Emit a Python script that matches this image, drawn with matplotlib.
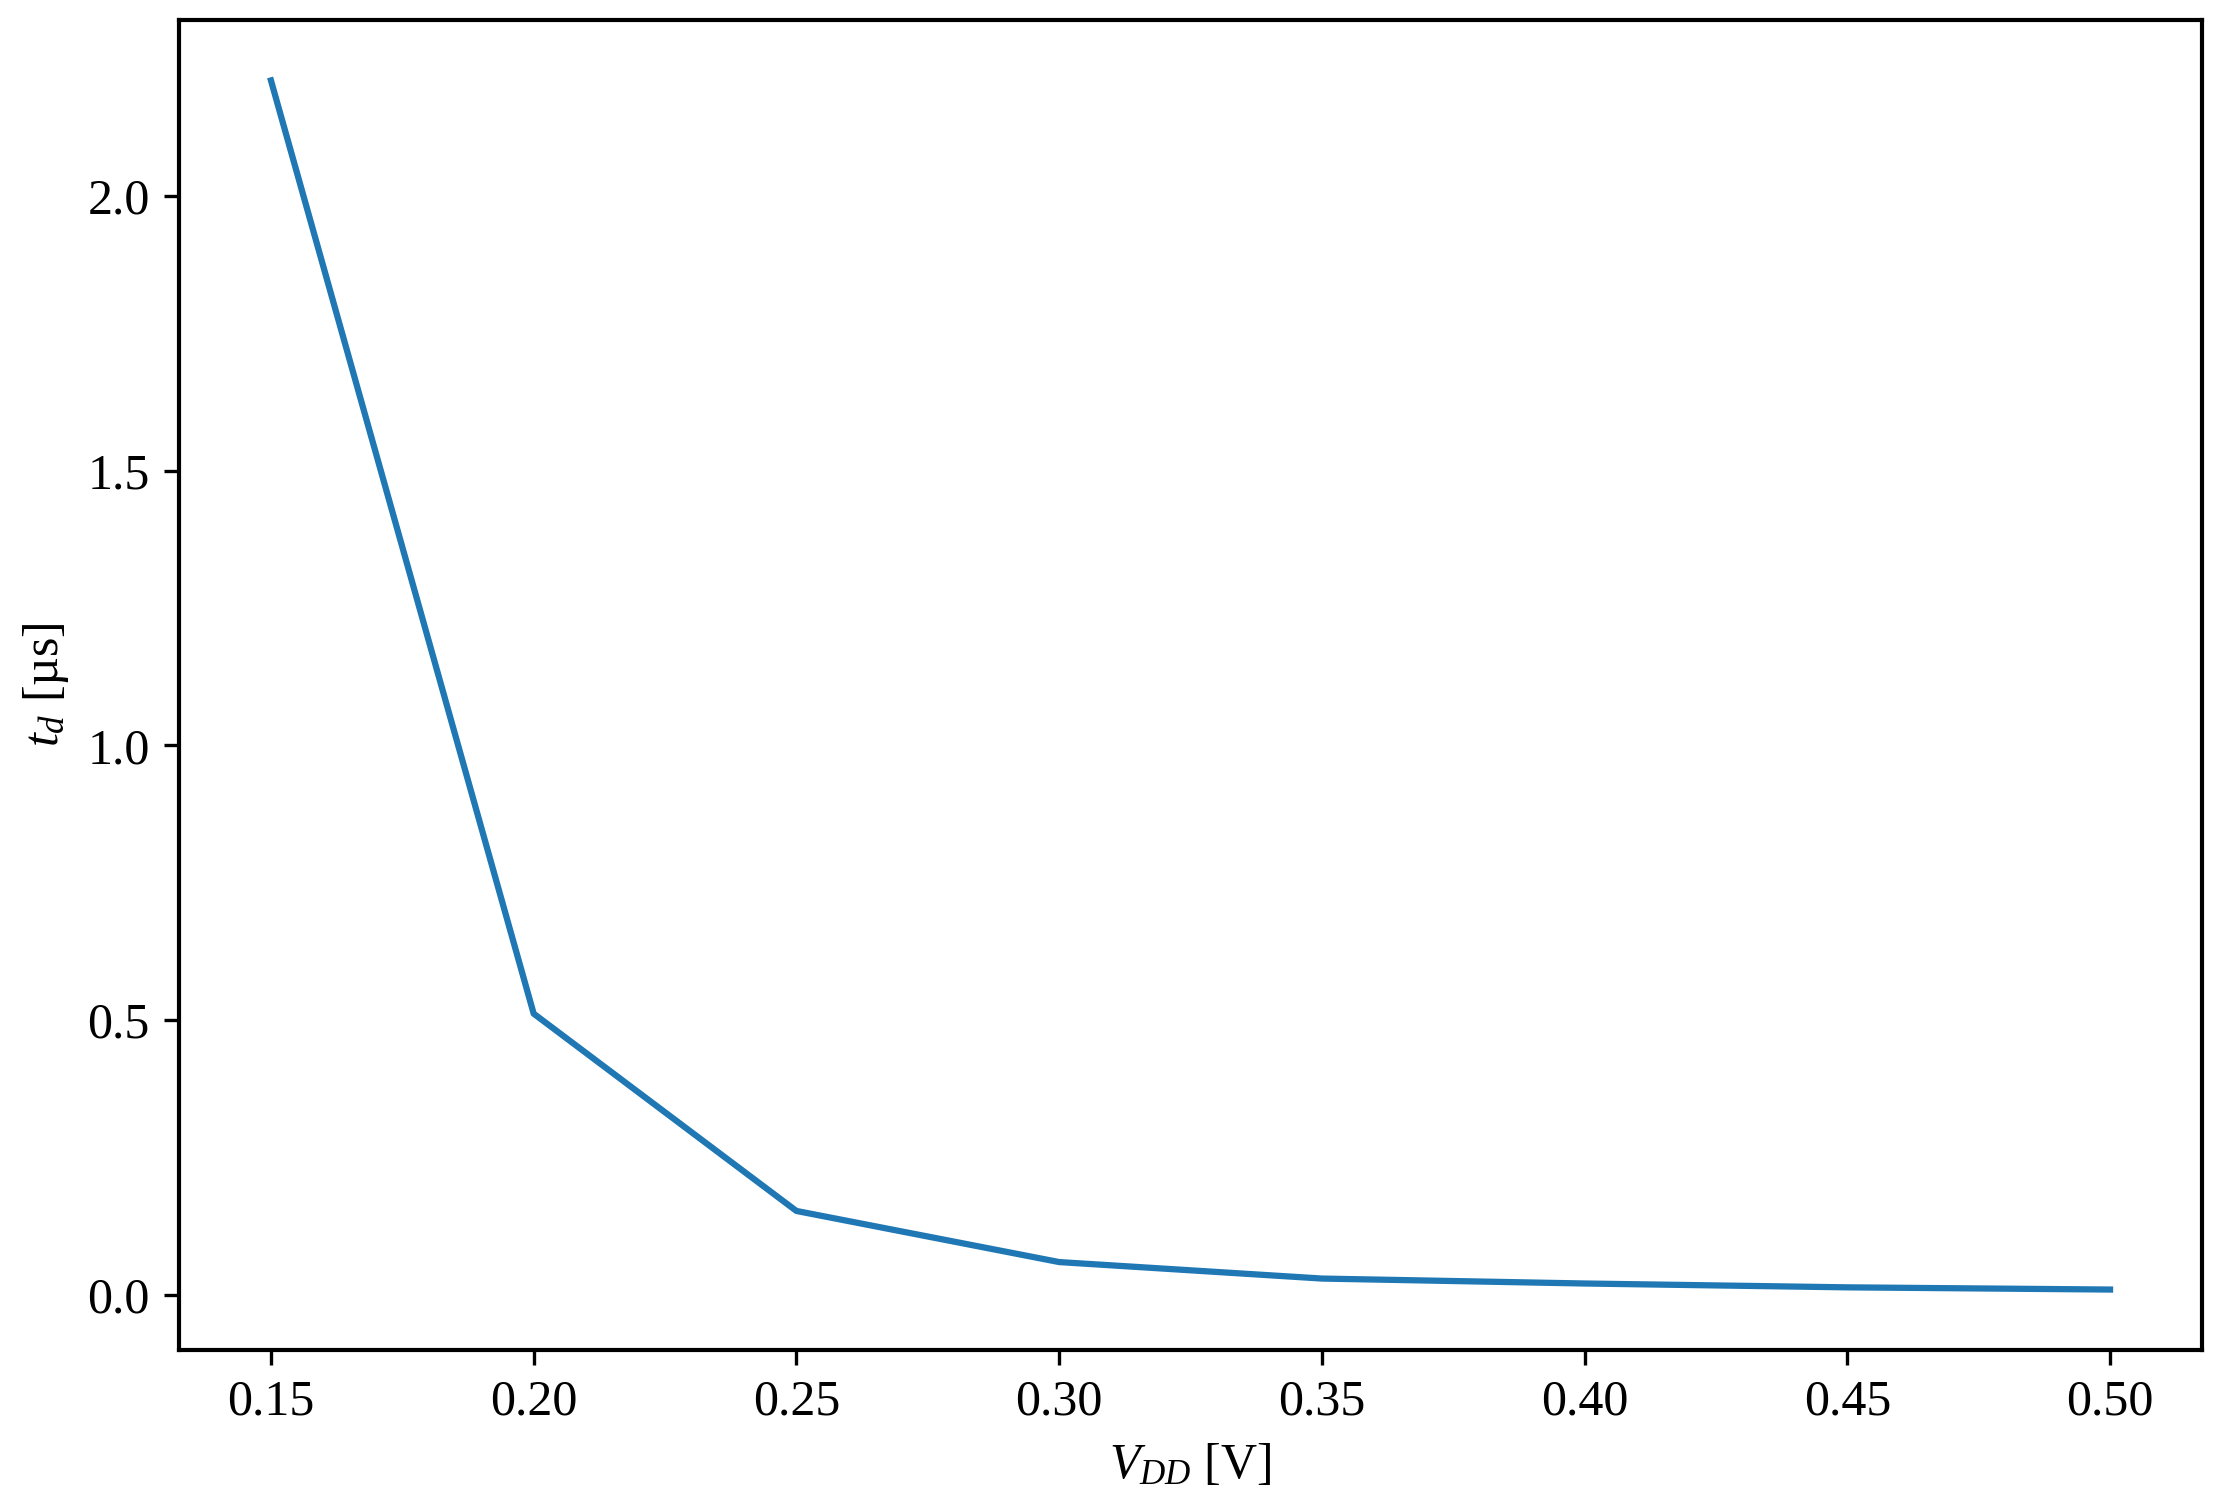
import matplotlib
matplotlib.use("Agg")
import matplotlib.pyplot as plt

vdd = [0.15, 0.20, 0.25, 0.30, 0.35, 0.40, 0.45, 0.50]
td = [2.21, 0.512, 0.153, 0.060, 0.030, 0.021, 0.014, 0.010]

plt.rcParams['font.family'] = ['Liberation Serif', 'DejaVu Serif']
plt.rcParams['mathtext.fontset'] = 'custom'
plt.rcParams['mathtext.rm'] = 'Liberation Serif'
plt.rcParams['mathtext.it'] = 'Liberation Serif:italic'
plt.rcParams['font.size'] = 12
plt.rcParams['axes.linewidth'] = 1.0

fig = plt.figure(figsize=(2225/300, 1509/300), dpi=300)
ax = fig.add_axes([179/2225, 1 - 1350/1509, (2202-179)/2225, (1350-20)/1509])
ax.plot(vdd, td, color='#1f77b4', lw=1.5)
ax.set_xticks([0.15, 0.20, 0.25, 0.30, 0.35, 0.40, 0.45, 0.50])
ax.set_xticklabels(['0.15', '0.20', '0.25', '0.30', '0.35', '0.40', '0.45', '0.50'])
ax.set_yticks([0.0, 0.5, 1.0, 1.5, 2.0])
ax.set_yticklabels(['0.0', '0.5', '1.0', '1.5', '2.0'])
ax.set_xlabel(r'$V_{DD}$ [V]')
ax.set_ylabel(r'$t_d$ [µs]')
fig.savefig('out.png', dpi=300)
